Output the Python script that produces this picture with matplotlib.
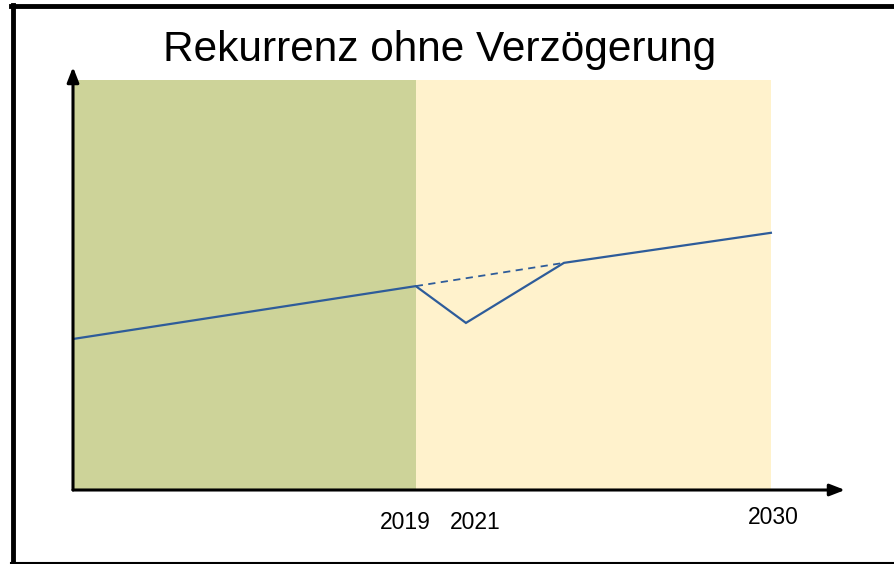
import matplotlib
matplotlib.use('Agg')
from matplotlib import pyplot as plt
from matplotlib.lines import Line2D

plt.rcParams['font.family'] = ['Liberation Sans', 'DejaVu Sans']

# positions in percent of axis length
past_span = [0, 44.4]       # green area, history
future_span = [44.4, 90.4]  # yellow area, forecast
area_top = 96.9

x_real = [0, 44.4, 50.9, 63.6, 90.4]
y_real = [35.7, 48.2, 39.5, 53.7, 60.8]

x_trend = [44.4, 63.6]
y_trend = [48.2, 53.7]

tick_labels = ['2019', '2021', '2030']
tick_pos = [43.0, 52.1, 90.7]
tick_y = [-7.6, -7.6, -6.5]

title = 'Rekurrenz ohne Verzögerung'

W, H = 895, 564
fig = plt.figure(figsize=(W / 100, H / 100), dpi=100)
ax = fig.add_axes([73 / W, (H - 490) / H, (845 - 73) / W, (490 - 67) / H])
ax.set_xlim(0, 100)
ax.set_ylim(0, 100)
ax.axis('off')

ax.fill_between(past_span, 0, area_top, color='#CDD399', lw=0, zorder=1)
ax.fill_between(future_span, 0, area_top, color='#FFF2CC', lw=0, zorder=1)

ax.plot(x_real, y_real, color='#2E5C9A', lw=1.6, zorder=3, solid_joinstyle='miter')
ax.plot(x_trend, y_trend, color='#2E5C9A', lw=1.3, ls=(0, (4, 3)), zorder=3)

# axes arrows
ax.annotate('', xy=(100, 0), xytext=(0, 0),
            arrowprops=dict(arrowstyle='-|>,head_length=0.9,head_width=0.35',
                            color='black', lw=2.2, shrinkA=0, shrinkB=0), zorder=4)
ax.annotate('', xy=(0, 100), xytext=(0, 0),
            arrowprops=dict(arrowstyle='-|>,head_length=0.9,head_width=0.35',
                            color='black', lw=2.2, shrinkA=0, shrinkB=0), zorder=4)

for lab, xp, yp in zip(tick_labels, tick_pos, tick_y):
    ax.text(xp, yp, lab, ha='center', va='center', fontsize=16.5, clip_on=False)

fig.text(440 / W, 1 - 50 / H, title, ha='center', va='center', fontsize=30.5)

# outer frame
fig.add_artist(Line2D([13 / W, 13 / W], [0, 1 - 5 / H], color='black', lw=3.5))
fig.add_artist(Line2D([11 / W, 1], [1 - 5.5 / H, 1 - 5.5 / H], color='black', lw=3.5))
fig.add_artist(Line2D([11 / W, 1], [1.5 / H, 1.5 / H], color='black', lw=1.5))

fig.savefig('out.png', dpi=100)
